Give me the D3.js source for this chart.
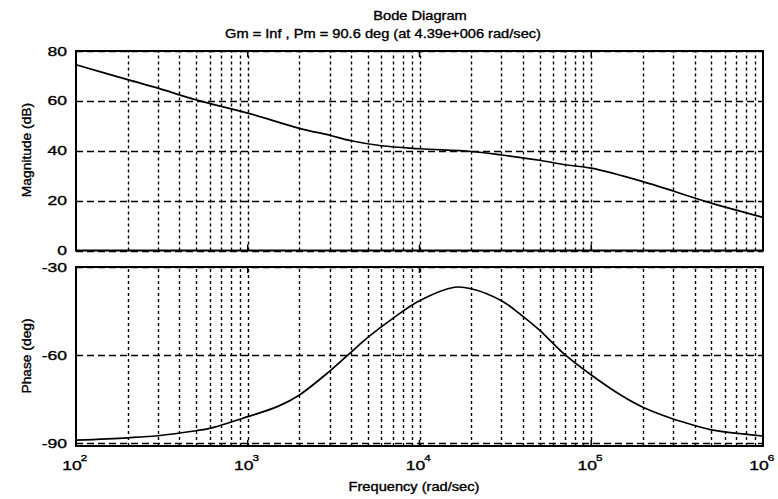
<!DOCTYPE html>
<html lang="en">
<head>
<meta charset="utf-8">
<script src="https://d3js.org/d3.v7.min.js"></script>
<style>
  body { margin: 0; background: #fff; }
  svg { display: block; }
  text { font-family: "Liberation Sans", Arial, sans-serif; fill: #000; stroke: #000; stroke-width: 0.35px; }
</style>
</head>
<body>
<svg id="chart" width="778" height="499"></svg>
<script>
// magnitude curve (rad/sec, dB)
var magFreq = [100, 200, 300, 500, 1000, 2000, 3000, 4000, 6000, 10000, 20000, 30000, 50000, 70000, 100000, 200000, 500000, 1000000];
var magDb   = [74.5, 68.5, 65.1, 60.4, 55.1, 49.0, 46.2, 44.0, 42.0, 40.8, 39.7, 38.3, 36.2, 34.4, 33.0, 27.6, 19.0, 13.3];

// phase curve (rad/sec, deg)
var phaseFreq = [100, 200, 300, 500, 600, 1000, 1500, 2000, 3000, 4000, 5000, 7000, 10000, 16000, 20000, 30000, 40000, 50000, 70000, 100000, 150000, 200000, 300000, 400000, 500000, 1000000];
var phaseDeg  = [-89.0, -88.2, -87.5, -85.8, -85.0, -81.0, -77.5, -73.6, -65.5, -59.0, -54.0, -47.5, -41.5, -36.9, -37.4, -41.5, -46.8, -51.5, -59.8, -66.8, -73.8, -77.8, -81.8, -84.0, -85.5, -87.6];

var decades = [2, 3, 4, 5, 6];
var magTicks = [0, 20, 40, 60, 80];
var phaseTicks = [-90, -60, -30];

var titleText = 'Bode Diagram';
var subTitle = 'Gm = Inf ,  Pm = 90.6 deg (at 4.39e+006 rad/sec)';
var magLabel = 'Magnitude (dB)';
var phaseLabel = 'Phase (deg)';
var xLabel = 'Frequency  (rad/sec)';

var svg = d3.select('#chart');
var left = 76, right = 763;

var x = d3.scaleLog().domain([1e2, 1e6]).range([left, right]);
var yMag = d3.scaleLinear().domain([0, 80]).range([250.5, 51]);
var yPh = d3.scaleLinear().domain([-91, -30]).range([446, 267]);

// stretched text, the picture's lettering is wide
function label(g, px, py, str, size, anchor, sx) {
  return g.append('text')
    .attr('transform', 'translate(' + px + ',' + py + ') scale(' + sx + ',1)')
    .attr('font-size', size)
    .attr('text-anchor', anchor)
    .text(str);
}

// all the 1..9 x 10^k grid positions
var gridX = [];
decades.slice(0, -1).forEach(function(k) {
  for (var m = 1; m < 10; m++) gridX.push(m * Math.pow(10, k));
});

function panel(y, ticks, freq, vals) {
  var g = svg.append('g');
  var y0 = y.range()[0], y1 = y.range()[1];

  // vertical grid
  g.selectAll('.vg').data(gridX.filter(function(d) { return d > 1e2; }))
    .enter().append('line')
    .attr('x1', d => Math.round(x(d)) + 0.5).attr('x2', d => Math.round(x(d)) + 0.5)
    .attr('y1', y0).attr('y2', y1)
    .attr('stroke', '#000').attr('stroke-width', 1.4)
    .attr('stroke-dasharray', '3,3');

  // horizontal grid
  g.selectAll('.hg').data(ticks).enter().append('line')
    .attr('x1', left).attr('x2', right)
    .attr('y1', d => Math.round(y(d)) + 0.5).attr('y2', d => Math.round(y(d)) + 0.5)
    .attr('stroke', '#000').attr('stroke-width', 1.3)
    .attr('stroke-dasharray', '7,4');

  // decade ticks top and bottom
  decades.forEach(function(k) {
    var xx = x(Math.pow(10, k));
    g.append('line').attr('x1', xx).attr('x2', xx).attr('y1', y0).attr('y2', y0 - 6)
      .attr('stroke', '#000').attr('stroke-width', 1.5);
    g.append('line').attr('x1', xx).attr('x2', xx).attr('y1', y1).attr('y2', y1 + 6)
      .attr('stroke', '#000').attr('stroke-width', 1.5);
  });

  // curve
  var line = d3.line()
    .x(function(d, i) { return x(freq[i]); })
    .y(function(d) { return y(d); })
    .curve(d3.curveCatmullRom.alpha(0.5));
  g.append('path').datum(vals)
    .attr('d', line)
    .attr('fill', 'none')
    .attr('stroke', '#000')
    .attr('stroke-width', 1.7);

  // box
  g.append('rect')
    .attr('x', left).attr('y', y1)
    .attr('width', right - left).attr('height', y0 - y1)
    .attr('fill', 'none').attr('stroke', '#000').attr('stroke-width', 2);

  // tick labels
  ticks.forEach(function(t) {
    label(g, 67, y(t) + 4.5, String(t), 13, 'end', 1.35);
  });
  return g;
}

panel(yMag, magTicks, magFreq, magDb);
panel(yPh, phaseTicks, phaseFreq, phaseDeg);

// x tick labels 10^k
decades.forEach(function(k) {
  var xx = x(Math.pow(10, k));
  label(svg, xx - 4, 470, '10', 13, 'middle', 1.35);
  label(svg, xx + 8, 461, String(k), 9, 'middle', 1.3);
});

// titles
label(svg, 420, 20, titleText, 12, 'middle', 1.22);
label(svg, 383, 38, subTitle, 12, 'middle', 1.22);
label(svg, 414, 491, xLabel, 12, 'middle', 1.22);

svg.append('text')
  .attr('transform', 'translate(31,150) rotate(-90) scale(1.15,1)')
  .attr('font-size', 12).attr('text-anchor', 'middle')
  .text(magLabel);
svg.append('text')
  .attr('transform', 'translate(31,356) rotate(-90) scale(1.15,1)')
  .attr('font-size', 12).attr('text-anchor', 'middle')
  .text(phaseLabel);
</script>
</body>
</html>
